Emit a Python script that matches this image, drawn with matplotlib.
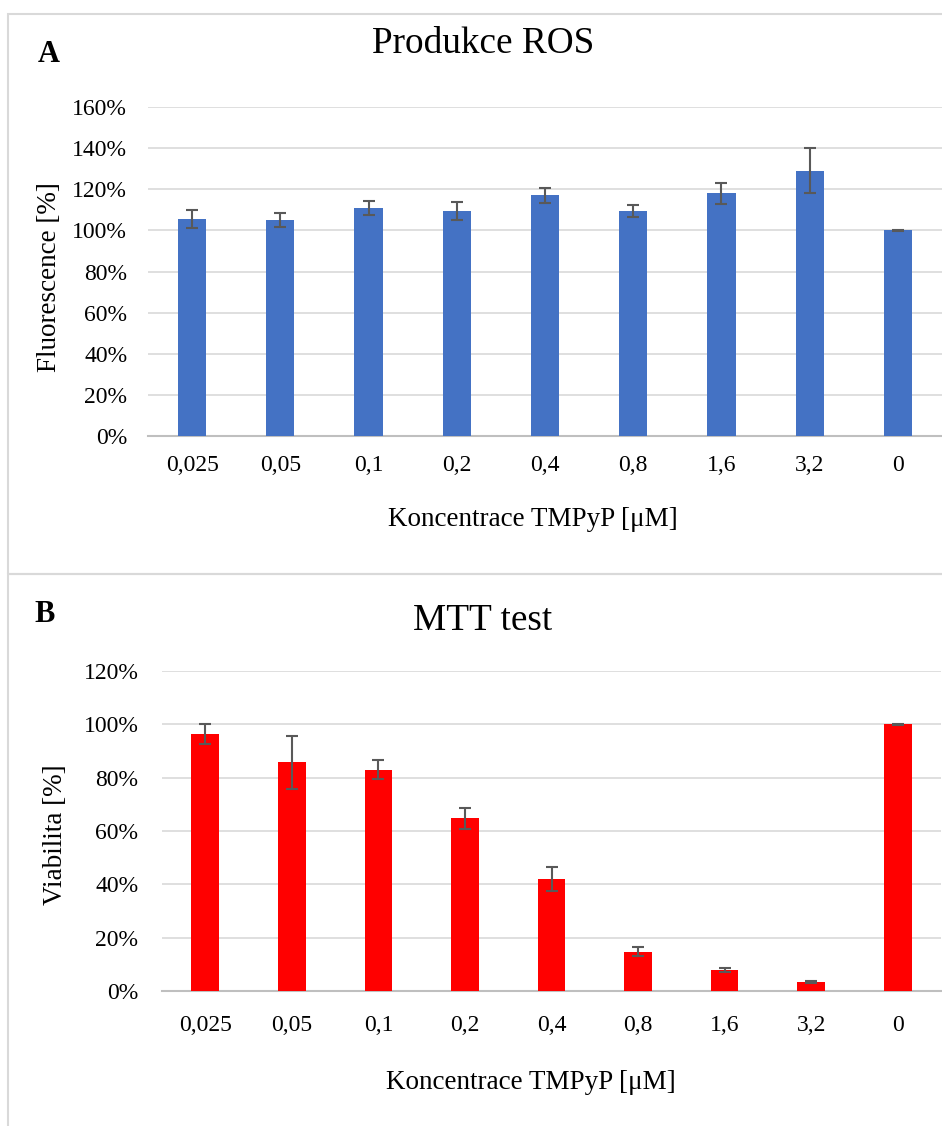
import matplotlib.pyplot as plt
from matplotlib.patches import Rectangle
from matplotlib.ticker import PercentFormatter

plt.rcParams['font.family'] = ['Liberation Serif', 'DejaVu Serif']

# concentrations (as shown on x axis)
conc = ['0,025', '0,05', '0,1', '0,2', '0,4', '0,8', '1,6', '3,2', '0']

# ROS production, fluorescence in %
ros = [105.5, 105, 111, 109.5, 117, 109.5, 118, 129, 100]
ros_err = [4.3, 3.5, 3.5, 4.5, 3.5, 2.8, 5.2, 11, 0.3]

# MTT test, viability in %
mtt = [96.5, 85.8, 83, 64.8, 42, 14.8, 7.9, 3.5, 100]
mtt_err = [3.8, 10, 3.6, 3.9, 4.6, 1.7, 0.9, 0.4, 0.2]

W, H = 942, 1126
fig = plt.figure(figsize=(W / 100, H / 100), dpi=100)


def fx(x):
    return x / W


def fy(y):
    return 1 - y / H


# panel frames
fig.patches.append(Rectangle((fx(8), fy(574)), fx(960), fy(14) - fy(574),
                             transform=fig.transFigure, fill=False,
                             edgecolor='#d9d9d9', lw=1.5))
fig.patches.append(Rectangle((fx(8), fy(1140)), fx(960), fy(574) - fy(1140),
                             transform=fig.transFigure, fill=False,
                             edgecolor='#d9d9d9', lw=1.5))


def panel(box, vals, errs, color, ymax, pad, xpad):
    ax = fig.add_axes(box)
    x = range(len(conc))
    ax.bar(x, vals, width=0.32, color=color, zorder=3)
    ax.errorbar(x, vals, yerr=errs, fmt='none', ecolor='#595959',
                elinewidth=1.5, capsize=4.5, capthick=1.5, zorder=4)
    ax.set_xlim(-0.5, len(conc) - 0.5)
    ax.set_ylim(0, ymax)
    ax.set_yticks(range(0, ymax + 1, 20))
    ax.yaxis.set_major_formatter(PercentFormatter(decimals=0))
    ax.set_xticks(list(x))
    ax.set_xticklabels(conc)
    ax.grid(axis='y', color='#d9d9d9', lw=1.2, zorder=0)
    for s in ['left', 'right', 'top']:
        ax.spines[s].set_visible(False)
    ax.spines['bottom'].set_color('#bfbfbf')
    ax.spines['bottom'].set_linewidth(1.5)
    ax.tick_params(length=0, labelsize=17, colors='black')
    ax.tick_params(axis='y', pad=pad)
    ax.tick_params(axis='x', pad=xpad)
    return ax


panel([fx(148), fy(436), fx(942 - 148), fy(107) - fy(436)],
      ros, ros_err, '#4472C4', 160, 15, 14)
panel([fx(162), fy(991), fx(941 - 162), fy(671) - fy(991)],
      mtt, mtt_err, '#FF0000', 120, 17, 17)

# titles, labels (placed by baseline)
fig.text(fx(483), fy(53), 'Produkce ROS', ha='center', va='baseline', fontsize=26.8)
fig.text(fx(483), fy(630), 'MTT test', ha='center', va='baseline', fontsize=26.8)
fig.text(fx(49), fy(62), 'A', ha='center', va='baseline', fontsize=22, fontweight='bold')
fig.text(fx(45), fy(622), 'B', ha='center', va='baseline', fontsize=22, fontweight='bold')
fig.text(fx(533), fy(526), 'Koncentrace TMPyP [μM]', ha='center', va='baseline', fontsize=19.5)
fig.text(fx(531), fy(1089), 'Koncentrace TMPyP [μM]', ha='center', va='baseline', fontsize=19.5)
fig.text(fx(50), fy(277), 'Fluorescence [%]', ha='center', va='center',
         rotation=90, fontsize=19.5)
fig.text(fx(55), fy(835), 'Viabilita [%]', ha='center', va='center',
         rotation=90, fontsize=19.5)

fig.savefig('out.png', dpi=100)
